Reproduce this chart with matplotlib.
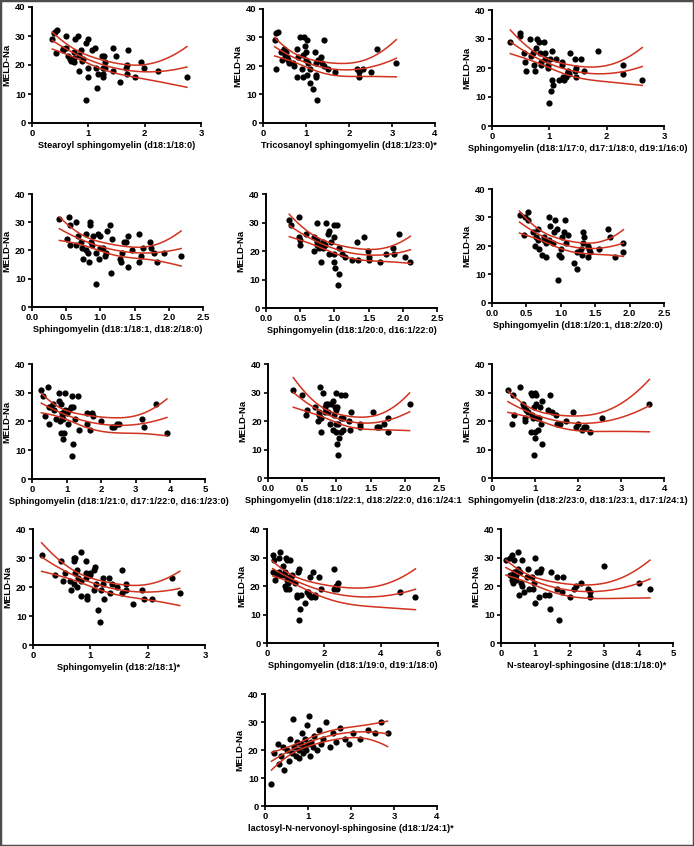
import numpy as np
import matplotlib.pyplot as plt
from matplotlib.patches import Rectangle

plt.rcParams['font.family'] = ['Liberation Sans', 'DejaVu Sans']
plt.rcParams['font.weight'] = 'bold'
plt.rcParams['axes.labelweight'] = 'bold'

# ---- data ----
stearoyl_x = [0.36, 0.39, 0.40, 0.44, 0.43, 0.61, 0.55, 0.55, 0.60, 0.64, 0.68, 0.70, 0.74, 0.74, 0.76,
              0.82, 0.75, 0.84, 0.84, 0.87, 0.88, 0.90, 0.95, 0.95, 0.99, 0.99, 1.00, 1.06, 1.12, 1.15,
              1.14, 1.17, 1.25, 1.28, 1.26, 1.26, 1.26, 1.30, 1.30, 1.44, 1.43, 1.49, 1.56, 1.66, 1.69,
              1.71, 1.68, 1.82, 1.93, 1.98, 2.23, 2.75]
stearoyl_y = [29, 31, 31.5, 32, 24, 26, 25.5, 25, 30, 23, 22, 21.5, 21, 24.5, 29,
              30, 22.5, 18, 23.5, 25, 21.5, 22, 27.5, 8, 29, 16, 19, 25, 26, 12,
              19, 17, 23, 23, 19, 17, 16, 21, 19, 26, 18, 23, 14, 19, 20,
              25, 17, 16, 21, 19, 18, 16]

tricos_x = [0.27, 0.31, 0.36, 0.31, 0.41, 0.45, 0.48, 0.52, 0.54, 0.55, 0.57, 0.61, 0.69, 0.73, 0.78,
            0.79, 0.82, 0.86, 0.91, 0.92, 0.94, 0.96, 0.98, 0.99, 1.00, 1.02, 1.02, 1.05, 1.09, 1.10,
            1.16, 1.20, 1.23, 1.23, 1.23, 1.26, 1.29, 1.34, 1.37, 1.43, 1.43, 1.51, 1.68, 2.18, 2.23,
            2.23, 2.33, 2.52, 2.66, 3.10]
tricos_y = [29, 31.5, 32, 19, 25, 22, 26, 24, 25, 23, 22, 21, 21, 20, 16,
            26, 23, 30, 19, 16, 24, 30, 27, 22, 25, 29, 17, 21, 19, 14,
            12, 25, 21, 17, 16, 8, 22, 23, 21, 29, 20, 19, 18, 19, 18,
            16, 19, 18, 26, 21]

sm_17_x = [0.32, 0.48, 0.49, 0.55, 0.58, 0.59, 0.67, 0.68, 0.71, 0.74, 0.77, 0.75, 0.79, 0.82, 0.84,
           0.85, 0.86, 0.90, 0.92, 0.92, 0.97, 0.97, 1.01, 1.04, 1.03, 1.00, 1.05, 1.07, 1.11, 1.16,
           1.22, 1.22, 1.23, 1.26, 1.29, 1.31, 1.33, 1.36, 1.34, 1.45, 1.45, 1.46, 1.46, 1.56, 1.61,
           1.85, 2.29, 2.29, 2.62]
sm_17_y = [29, 32, 31, 25, 22, 19, 30, 24, 25, 21, 27, 19, 30, 29, 25,
           22, 21, 29, 25, 23, 21, 20, 23, 26, 12, 8, 16, 14, 23, 16,
           22, 21, 17, 16, 17, 18, 19, 25, 18, 23, 19, 20, 17, 23, 19,
           26, 21, 18, 16]

sm_18_1_x = [0.40, 0.51, 0.54, 0.56, 0.56, 0.64, 0.65, 0.67, 0.72, 0.73, 0.75, 0.79, 0.79, 0.82, 0.85,
             0.85, 0.86, 0.87, 0.84, 0.89, 0.93, 0.94, 0.97, 0.99, 0.99, 0.98, 1.04, 1.07, 1.08, 1.10,
             1.14, 1.17, 1.16, 1.29, 1.30, 1.31, 1.34, 1.37, 1.40, 1.40, 1.46, 1.57, 1.57, 1.59, 1.63,
             1.73, 1.74, 1.79, 1.83, 1.93, 2.18]
sm_18_1_y = [31, 24, 32, 29, 22, 30, 22, 25, 23, 21, 17, 26, 20, 19, 30,
             29, 23, 22, 16, 25, 8, 19, 26, 25, 21, 17, 21, 18, 19, 27,
             29, 24, 12, 17, 16, 19, 23, 23, 25, 14, 20, 26, 16, 18, 21,
             23, 21, 19, 16, 19, 18]

sm_20_0_x = [0.34, 0.36, 0.48, 0.48, 0.49, 0.50, 0.58, 0.70, 0.70, 0.74, 0.75, 0.75, 0.75, 0.77, 0.80,
             0.82, 0.84, 0.84, 0.86, 0.88, 0.90, 0.92, 0.92, 0.95, 0.99, 0.99, 0.99, 1.00, 1.01, 1.04,
             1.06, 1.06, 1.05, 1.11, 1.15, 1.25, 1.33, 1.34, 1.43, 1.49, 1.50, 1.50, 1.67, 1.75, 1.85,
             1.87, 1.94, 2.03, 2.11]
sm_20_0_y = [31, 29, 32, 25, 24, 22, 26, 25, 20, 30, 24, 23, 22, 21, 16,
             22, 23, 21, 22, 30, 26, 27, 19, 23, 25, 19, 16, 29, 14, 29,
             21, 12, 8, 19, 18, 17, 23, 17, 25, 20, 18, 17, 16, 19, 21,
             19, 26, 18, 16]

sm_20_1_x = [0.40, 0.47, 0.48, 0.52, 0.53, 0.60, 0.63, 0.64, 0.67, 0.67, 0.68, 0.73, 0.75, 0.76, 0.78,
             0.79, 0.83, 0.84, 0.83, 0.88, 0.90, 0.92, 0.95, 0.96, 0.98, 1.01, 1.01, 1.02, 1.05, 1.06,
             1.07, 1.11, 1.19, 1.24, 1.24, 1.30, 1.31, 1.32, 1.32, 1.34, 1.39, 1.39, 1.41, 1.43, 1.55,
             1.68, 1.72, 1.79, 1.91, 1.91]
sm_20_1_y = [31, 24, 30, 32, 29, 25, 20, 23, 26, 22, 19, 17, 23, 22, 21,
             16, 30, 27, 22, 21, 25, 29, 26, 8, 17, 16, 19, 23, 25, 29,
             21, 24, 14, 12, 18, 19, 17, 25, 21, 23, 20, 16, 19, 18, 19,
             26, 23, 16, 21, 18]

sm_21_0_x = [0.27, 0.31, 0.38, 0.46, 0.48, 0.48, 0.54, 0.60, 0.63, 0.69, 0.77, 0.79, 0.81, 0.83, 0.83,
             0.87, 0.88, 0.90, 0.90, 0.92, 0.94, 0.96, 1.00, 1.04, 1.06, 1.12, 1.17, 1.19, 1.19, 1.17,
             1.25, 1.33, 1.35, 1.60, 1.60, 1.67, 1.73, 1.75, 2.00, 2.31, 2.37, 2.46, 2.52, 3.19, 3.23,
             3.58, 3.90]
sm_21_0_y = [31, 29, 22, 32, 25, 19, 25, 26, 24, 21, 30, 27, 20, 26, 16,
             22, 23, 21, 14, 16, 24, 30, 23, 19, 24, 25, 29, 25, 12, 8,
             21, 29, 17, 23, 19, 17, 23, 22, 20, 18, 18, 19, 19, 21, 18,
             26, 16]

sm_22_1_x = [0.37, 0.50, 0.57, 0.56, 0.68, 0.74, 0.74, 0.73, 0.76, 0.77, 0.77, 0.80, 0.83, 0.84, 0.85,
             0.87, 0.88, 0.90, 0.92, 0.95, 0.95, 0.96, 0.98, 0.99, 0.99, 1.00, 1.00, 1.01, 1.02, 1.01,
             1.02, 1.04, 1.06, 1.07, 1.07, 1.10, 1.10, 1.12, 1.19, 1.20, 1.22, 1.35, 1.35, 1.54, 1.59,
             1.62, 1.69, 1.76, 1.76, 2.07]
sm_22_1_y = [31, 29, 24, 22, 25, 23, 22, 20, 32, 21, 16, 30, 25, 23, 26,
             23, 26, 19, 26, 17, 27, 22, 25, 30, 19, 16, 24, 25, 19, 12,
             8, 14, 29, 16, 21, 21, 17, 29, 20, 17, 23, 19, 18, 23, 18,
             18, 19, 21, 16, 26]

sm_23_0_x = [0.37, 0.46, 0.49, 0.51, 0.66, 0.71, 0.74, 0.77, 0.77, 0.80, 0.83, 0.91, 0.91, 0.93, 0.94,
             0.95, 0.97, 0.97, 0.99, 1.00, 1.00, 1.02, 1.03, 1.04, 1.08, 1.10, 1.12, 1.14, 1.16, 1.17,
             1.30, 1.36, 1.39, 1.48, 1.51, 1.58, 1.71, 1.88, 1.96, 2.00, 2.10, 2.15, 2.18, 2.29, 2.56,
             3.66]
sm_23_0_y = [31, 19, 29, 22, 32, 26, 25, 20, 21, 24, 23, 30, 16, 22, 29,
             21, 8, 25, 16, 30, 14, 29, 26, 21, 17, 21, 25, 19, 27, 12,
             24, 29, 23, 22, 19, 19, 20, 23, 18, 19, 17, 18, 18, 16, 21,
             26]

sm_d18_2_x = [0.15, 0.38, 0.49, 0.52, 0.56, 0.64, 0.67, 0.71, 0.71, 0.72, 0.73, 0.74, 0.76, 0.77, 0.79,
              0.83, 0.84, 0.83, 0.92, 0.92, 0.93, 0.94, 0.95, 0.99, 1.00, 1.07, 1.07, 1.09, 1.10, 1.14,
              1.16, 1.19, 1.22, 1.22, 1.24, 1.33, 1.34, 1.37, 1.47, 1.55, 1.55, 1.62, 1.62, 1.74, 1.90,
              1.93, 2.07, 2.42, 2.56]
sm_d18_2_y = [31, 24, 29, 22, 25, 22, 19, 30, 29, 21, 25, 30, 20, 26, 23,
              22, 17, 32, 29, 25, 23, 17, 16, 25, 24, 19, 26, 27, 21, 12,
              8, 19, 23, 21, 16, 23, 18, 21, 20, 26, 18, 21, 19, 14, 19,
              16, 16, 23, 18]

sm_19_0_x = [0.20, 0.22, 0.24, 0.29, 0.34, 0.41, 0.43, 0.45, 0.50, 0.55, 0.59, 0.62, 0.62, 0.66, 0.66,
             0.71, 0.71, 0.73, 0.76, 0.76, 0.80, 0.80, 0.83, 0.87, 0.99, 1.04, 1.06, 1.08, 1.11, 1.11,
             1.15, 1.18, 1.32, 1.39, 1.43, 1.48, 1.50, 1.53, 1.60, 1.67, 1.69, 1.81, 1.88, 2.34, 2.34,
             2.41, 2.45, 2.50, 4.67, 5.21]
sm_19_0_y = [25, 31, 29, 22, 24, 25, 30, 32, 24, 27, 24, 25, 20, 30, 19,
             29, 22, 21, 23, 19, 29, 22, 23, 24, 21, 16, 17, 25, 26, 8,
             12, 17, 14, 18, 18, 17, 23, 16, 25, 16, 17, 23, 19, 26, 19,
             20, 19, 21, 18, 16]

n_stear_x = [0.14, 0.25, 0.27, 0.31, 0.33, 0.35, 0.37, 0.39, 0.41, 0.43, 0.45, 0.49, 0.49, 0.52, 0.56,
             0.57, 0.62, 0.62, 0.68, 0.76, 0.79, 0.81, 0.91, 0.94, 0.97, 0.99, 1.00, 1.04, 1.10, 1.12,
             1.16, 1.28, 1.39, 1.43, 1.45, 1.62, 1.62, 1.70, 1.80, 1.78, 2.01, 2.13, 2.17, 2.32, 2.53,
             2.59, 2.59, 3.00, 4.00, 4.33]
n_stear_y = [29, 24, 30, 31, 22, 21, 29, 25, 23, 24, 22, 32, 26, 17, 25,
             21, 29, 20, 18, 23, 26, 19, 23, 19, 21, 30, 14, 25, 16, 25,
             26, 17, 17, 12, 25, 23, 19, 8, 23, 18, 16, 19, 20, 21, 19,
             18, 16, 27, 21, 19]

lacto_x = [0.15, 0.22, 0.30, 0.33, 0.38, 0.42, 0.45, 0.50, 0.55, 0.58, 0.62, 0.65, 0.68, 0.72, 0.75,
           0.78, 0.80, 0.83, 0.86, 0.88, 0.90, 0.93, 0.95, 0.98, 1.00, 1.02, 1.05, 1.08, 1.12, 1.15,
           1.20, 1.25, 1.30, 1.35, 1.42, 1.50, 1.58, 1.65, 1.75, 1.85, 1.95, 2.05, 2.20, 2.40, 2.55,
           2.70, 2.85]
lacto_y = [8, 19, 22, 15, 18, 21, 13, 20, 16, 24, 19, 31, 21, 18, 23,
           20, 17, 22, 26, 19, 21, 24, 20, 29, 22, 32, 18, 23, 21, 25,
           20, 27, 22, 24, 30, 21, 26, 23, 28, 24, 22, 26, 24, 27, 26,
           30, 26]

x_labels = [
    'Stearoyl sphingomyelin (d18:1/18:0)',
    'Tricosanoyl sphingomyelin (d18:1/23:0)*',
    'Sphingomyelin (d18:1/17:0, d17:1/18:0, d19:1/16:0)',
    'Sphingomyelin (d18:1/18:1, d18:2/18:0)',
    'Sphingomyelin (d18:1/20:0, d16:1/22:0)',
    'Sphingomyelin (d18:1/20:1, d18:2/20:0)',
    'Sphingomyelin (d18:1/21:0, d17:1/22:0, d16:1/23:0)',
    'Sphingomyelin (d18:1/22:1, d18:2/22:0, d16:1/24:1',
    'Sphingomyelin (d18:2/23:0, d18:1/23:1, d17:1/24:1)',
    'Sphingomyelin (d18:2/18:1)*',
    'Sphingomyelin (d18:1/19:0, d19:1/18:0)',
    'N-stearoyl-sphingosine (d18:1/18:0)*',
    'lactosyl-N-nervonoyl-sphingosine (d18:1/24:1)*',
]
series = [
    (stearoyl_x, stearoyl_y), (tricos_x, tricos_y), (sm_17_x, sm_17_y),
    (sm_18_1_x, sm_18_1_y), (sm_20_0_x, sm_20_0_y), (sm_20_1_x, sm_20_1_y),
    (sm_21_0_x, sm_21_0_y), (sm_22_1_x, sm_22_1_y), (sm_23_0_x, sm_23_0_y),
    (sm_d18_2_x, sm_d18_2_y), (sm_19_0_x, sm_19_0_y), (n_stear_x, n_stear_y),
    (lacto_x, lacto_y),
]
x_max = [3, 4, 3, 2.5, 2.5, 2.5, 5, 2.5, 4, 3, 6, 5, 4]
x_step = [1, 1, 1, 0.5, 0.5, 0.5, 1, 0.5, 1, 1, 2, 1, 1]

# axes boxes in pixels: left, right, top(y=40), bottom(y=0)
boxes = [
    (32, 201, 7, 123), (263, 435, 9, 123), (492, 664, 10, 126),
    (32, 203, 194, 307), (266, 437, 194, 308), (492, 664, 189, 303),
    (32, 205, 364, 479), (268, 439, 364, 478), (492, 664, 364, 478),
    (33, 205, 529, 645), (267, 438, 529, 643), (501, 673, 529, 643),
    (265, 437, 694, 806),
]

W, H = 694, 846
T_CRIT = 2.01
RED = '#d2321f'


def quad_fit_band(x, y, n=200):
    x = np.asarray(x, float)
    y = np.asarray(y, float)
    X = np.column_stack([np.ones_like(x), x, x ** 2])
    beta = np.linalg.lstsq(X, y, rcond=None)[0]
    resid = y - X @ beta
    s2 = resid @ resid / (len(x) - 3)
    cov = s2 * np.linalg.inv(X.T @ X)
    xs = np.linspace(x.min(), x.max(), n)
    Xs = np.column_stack([np.ones_like(xs), xs, xs ** 2])
    fit = Xs @ beta
    se = np.sqrt(np.einsum('ij,jk,ik->i', Xs, cov, Xs))
    return xs, fit, fit - T_CRIT * se, fit + T_CRIT * se


fig = plt.figure(figsize=(W / 100, H / 100), dpi=100)

for (xv, yv), label, xm, st, (l, r, t, b) in zip(series, x_labels, x_max, x_step, boxes):
    ax = fig.add_axes([l / W, 1 - b / H, (r - l) / W, (b - t) / H])
    ax.scatter(xv, yv, s=20, color='black', zorder=2, linewidths=0)
    xs, fit, lo, hi = quad_fit_band(xv, yv)
    for curve in (fit, lo, hi):
        ax.plot(xs, curve, color=RED, lw=1.1, zorder=3)

    ax.set_xlim(0, xm)
    ax.set_ylim(0, 40)
    ticks = np.arange(0, xm + st / 2, st)
    ax.set_xticks(ticks)
    if st < 1:
        ax.set_xticklabels([f'{v:.1f}' for v in ticks])
    else:
        ax.set_xticklabels([f'{v:g}' for v in ticks])
    ax.set_yticks([0, 10, 20, 30, 40])

    for side in ('top', 'right'):
        ax.spines[side].set_visible(False)
    for side in ('left', 'bottom'):
        ax.spines[side].set_linewidth(1.4)
    ax.tick_params(direction='out', length=3, width=1.2, labelsize=6.8, pad=1.5)
    for lab in ax.get_xticklabels() + ax.get_yticklabels():
        lab.set_fontweight('bold')
    ax.set_xlabel(label, fontsize=6.6, fontweight='bold', labelpad=2)
    ax.set_ylabel('MELD-Na', fontsize=6.8, fontweight='bold', labelpad=3)
    ax.patch.set_alpha(0)

fig.patches.append(Rectangle((0, 0), 1, 1, transform=fig.transFigure, fill=False,
                             edgecolor='#4d4d4d', linewidth=2.5))
fig.savefig('out.png', dpi=100)
